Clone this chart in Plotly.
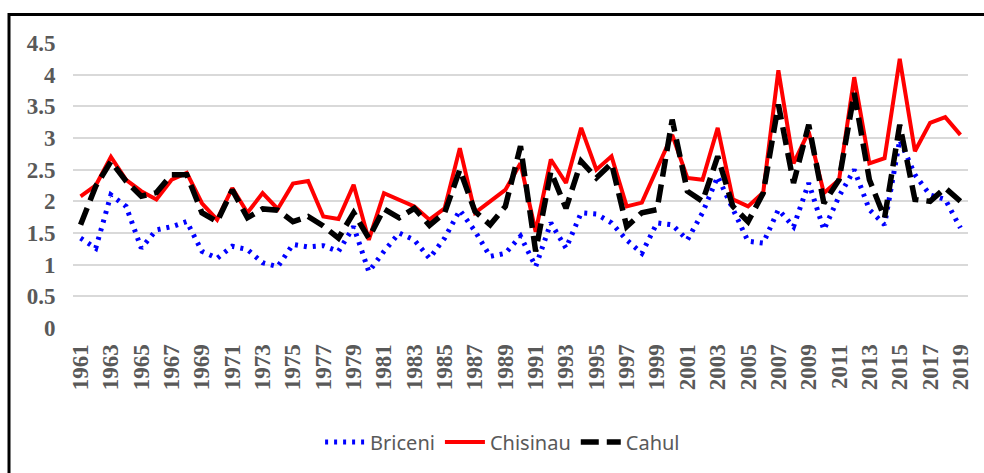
import plotly.graph_objects as go

years = list(range(1961, 2020))

briceni = [1.42, 1.26, 2.10, 1.92, 1.26, 1.55, 1.60, 1.68, 1.21, 1.10,
           1.29, 1.24, 1.03, 0.97, 1.32, 1.28, 1.30, 1.21, 1.60, 0.89,
           1.21, 1.50, 1.39, 1.10, 1.42, 1.86, 1.53, 1.13, 1.18, 1.45,
           0.97, 1.66, 1.26, 1.82, 1.80, 1.66, 1.39, 1.18, 1.66, 1.63,
           1.39, 1.82, 2.39, 1.89, 1.37, 1.34, 1.87, 1.60, 2.29, 1.55,
           2.08, 2.50, 1.87, 1.63, 2.97, 2.42, 2.10, 2.03, 1.58]

chisinau = [2.08, 2.25, 2.70, 2.34, 2.16, 2.03, 2.34, 2.45, 1.97, 1.71,
            2.21, 1.82, 2.13, 1.88, 2.28, 2.32, 1.76, 1.72, 2.26, 1.39,
            2.13, 2.03, 1.92, 1.71, 1.89, 2.84, 1.82, 2.00, 2.18, 2.60,
            1.52, 2.66, 2.29, 3.16, 2.50, 2.71, 1.92, 1.98, 2.50, 3.05,
            2.37, 2.34, 3.16, 2.03, 1.92, 2.14, 4.07, 2.60, 3.10, 2.13,
            2.34, 3.96, 2.60, 2.68, 4.25, 2.79, 3.24, 3.33, 3.05]

cahul = [1.63, 2.24, 2.63, 2.32, 2.08, 2.14, 2.42, 2.42, 1.82, 1.68,
         2.18, 1.74, 1.88, 1.86, 1.68, 1.76, 1.61, 1.42, 1.82, 1.42,
         1.88, 1.74, 1.89, 1.62, 1.82, 2.50, 1.84, 1.63, 1.92, 2.87,
         1.21, 2.47, 1.89, 2.63, 2.37, 2.60, 1.60, 1.82, 1.87, 3.29,
         2.16, 2.00, 2.71, 1.92, 1.68, 2.13, 3.53, 2.29, 3.21, 1.97,
         2.34, 3.71, 2.34, 1.74, 3.21, 2.03, 2.00, 2.21, 2.00]

y_ticks = [0, 0.5, 1, 1.5, 2, 2.5, 3, 3.5, 4, 4.5]
y_labels = ["0", "0.5", "1", "1.5", "2", "2.5", "3", "3.5", "4", "4.5"]

fig = go.Figure()

fig.add_trace(go.Scatter(x=years, y=briceni, name="Briceni", mode="lines",
                         line=dict(color="#0000ff", width=5, dash="3px,6px")))
fig.add_trace(go.Scatter(x=years, y=chisinau, name="Chisinau", mode="lines",
                         line=dict(color="#ff0000", width=4)))
fig.add_trace(go.Scatter(x=years, y=cahul, name="Cahul", mode="lines",
                         line=dict(color="#000000", width=5.5, dash="18px,8px")))

tick_font = dict(family="Liberation Serif", size=23, color="#595959", weight="bold")

fig.update_layout(
    width=984, height=473,
    margin=dict(l=73, r=16, t=43, b=145),
    plot_bgcolor="white", paper_bgcolor="white",
    showlegend=True,
    legend=dict(orientation="h", x=0.48, xanchor="center", y=-0.4, yanchor="middle",
                font=dict(family="Noto Sans", size=20, color="#595959"),
                itemwidth=40),
    xaxis=dict(range=[1960.5, 2019.5], tickmode="linear", tick0=1961, dtick=2,
               tickangle=-90, tickfont=tick_font, showgrid=False, zeroline=False,
               ticks="outside", ticklen=6, tickcolor="white", showline=False,
               automargin=False),
    yaxis=dict(range=[0, 4.5], tickvals=y_ticks, ticktext=y_labels,
               tickfont=tick_font, showgrid=True, gridcolor="#d9d9d9", gridwidth=2,
               zeroline=False, ticks="outside", ticklen=12, tickcolor="white",
               automargin=False),
    shapes=[dict(type="rect", xref="paper", yref="paper",
                 x0=-0.0715, x1=1.2, y0=-0.8, y1=1.1,
                 line=dict(color="black", width=3), fillcolor="rgba(0,0,0,0)")],
)

fig.write_html("out.html", config={"displayModeBar": False},
               post_script="document.body.style.margin='0';document.body.style.overflow='hidden';")
